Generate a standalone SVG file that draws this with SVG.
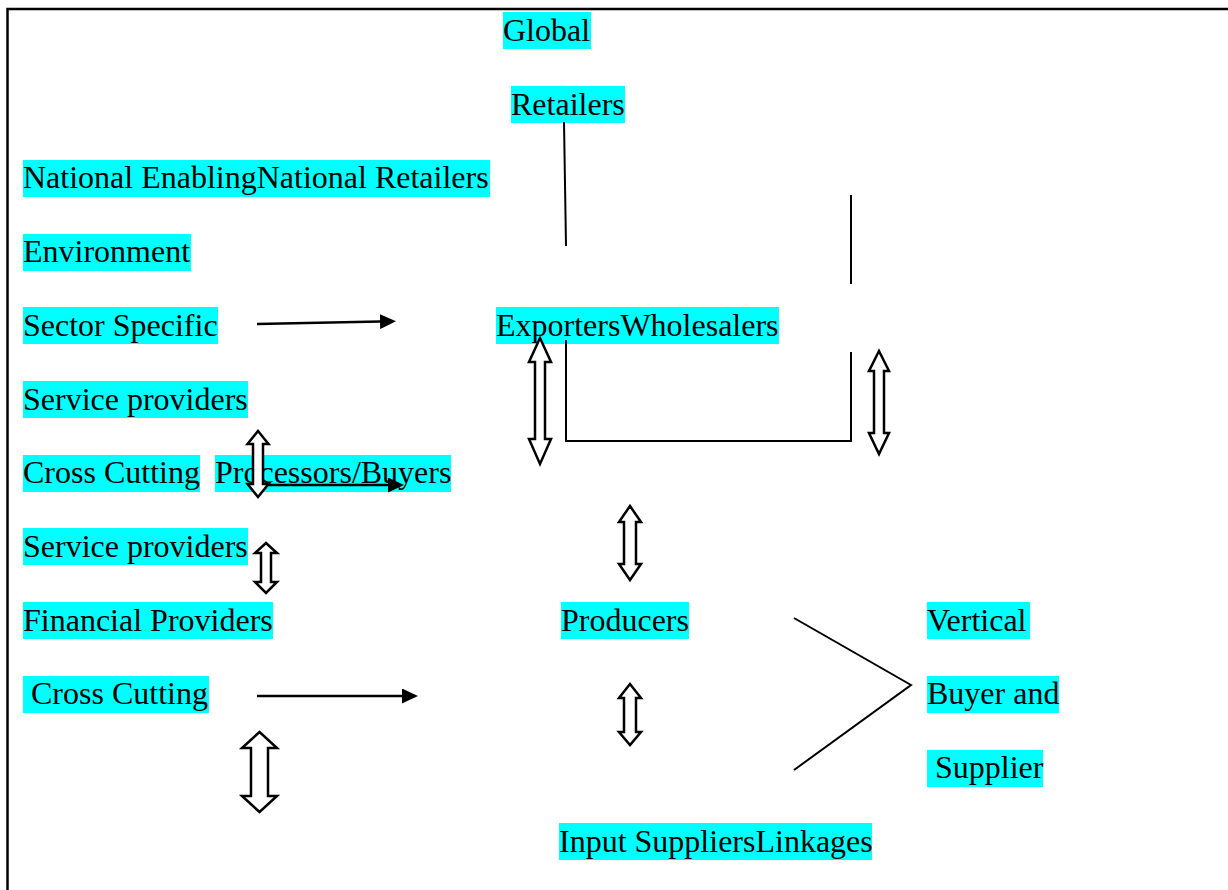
<svg xmlns="http://www.w3.org/2000/svg" width="1228" height="890" viewBox="0 0 1228 890">
  <style>
    .hl { fill: #00ffff; }
    .lbl { font-family: "Liberation Serif", "Times New Roman", serif; font-size: 32px; fill: #000; white-space: pre; }
    .ln { fill: none; stroke: #000; stroke-width: 2; }
    .arr { fill: none; stroke: #000; stroke-width: 2.5; }
    .blk { fill: #fff; stroke: #000; stroke-width: 2.5; stroke-linejoin: miter; }
    .frame { fill: none; stroke: #000; stroke-width: 2.5; }
  </style>
  <defs>
    <marker id="head" markerUnits="userSpaceOnUse" markerWidth="16" markerHeight="15" refX="0" refY="7.5" orient="auto">
      <path d="M0,0 L16,7.5 L0,15 Z" fill="#000"/>
    </marker>
  </defs>

  <rect width="1228" height="890" fill="#fff"/>
  <path class="frame" d="M7.5,890 V9 H1228"/>

  <!-- labels -->
  <g id="global">
    <rect class="hl" x="503" y="12" width="88" height="37"/>
    <text class="lbl" x="503" y="40.5">Global</text>
  </g>
  <g id="retailers">
    <rect class="hl" x="511" y="86" width="114" height="37"/>
    <text class="lbl" x="511" y="114.5">Retailers</text>
  </g>
  <g id="national-enabling">
    <rect class="hl" x="23" y="160" width="467" height="37"/>
    <text class="lbl" x="23" y="188">National EnablingNational Retailers</text>
  </g>
  <g id="environment">
    <rect class="hl" x="23" y="234" width="168" height="37"/>
    <text class="lbl" x="23" y="262">Environment</text>
  </g>
  <g id="sector-specific">
    <rect class="hl" x="23" y="307" width="195" height="37"/>
    <text class="lbl" x="23" y="335.5">Sector Specific</text>
  </g>
  <g id="exporters-wholesalers">
    <rect class="hl" x="496" y="307" width="283" height="37"/>
    <text class="lbl" x="496" y="335.5">ExportersWholesalers</text>
  </g>
  <g id="service-providers-1">
    <rect class="hl" x="23" y="381" width="225" height="37"/>
    <text class="lbl" x="23" y="409.5">Service providers</text>
  </g>
  <g id="cross-cutting-1">
    <rect class="hl" x="23" y="455" width="177" height="37"/>
    <text class="lbl" x="23" y="483">Cross Cutting</text>
  </g>
  <g id="processors-buyers">
    <rect class="hl" x="215" y="455" width="236" height="37"/>
    <text class="lbl" x="215" y="483">Processors/Buyers</text>
  </g>
  <g id="service-providers-2">
    <rect class="hl" x="23" y="528" width="225" height="37"/>
    <text class="lbl" x="23" y="556.5">Service providers</text>
  </g>
  <g id="financial-providers">
    <rect class="hl" x="23" y="602" width="250" height="37"/>
    <text class="lbl" x="23" y="630.5">Financial Providers</text>
  </g>
  <g id="cross-cutting-2">
    <rect class="hl" x="23" y="676" width="186" height="37"/>
    <text class="lbl" x="23" y="704"> Cross Cutting</text>
  </g>
  <g id="producers">
    <rect class="hl" x="561" y="602" width="128" height="37"/>
    <text class="lbl" x="561" y="630.5">Producers</text>
  </g>
  <g id="vertical">
    <rect class="hl" x="927" y="602" width="103" height="37"/>
    <text class="lbl" x="927" y="630.5">Vertical</text>
  </g>
  <g id="buyer-and">
    <rect class="hl" x="927" y="676" width="132" height="37"/>
    <text class="lbl" x="927" y="704">Buyer and</text>
  </g>
  <g id="supplier">
    <rect class="hl" x="927" y="750" width="116" height="37"/>
    <text class="lbl" x="927" y="778"> Supplier</text>
  </g>
  <g id="input-suppliers">
    <rect class="hl" x="559" y="823" width="313" height="37"/>
    <text class="lbl" x="559" y="851.5">Input SuppliersLinkages</text>
  </g>

  <!-- connectors -->
  <g id="connectors">
    <path class="ln" d="M564,122 L566,246"/>
    <path class="ln" d="M851,195 V284"/>
    <path class="ln" d="M566,340 V441 H851 V352"/>
    <path class="ln" d="M794,618 L911,685 L794,770"/>

    <path class="arr" d="M257,324 L380,321.6" marker-end="url(#head)"/>
    <path class="arr" d="M267,485 L388,485" marker-end="url(#head)"/>
    <path class="arr" d="M257,696 L402,696" marker-end="url(#head)"/>

    <path class="blk" d="M540,338 L551,362 L545,362 L545,439 L551,439 L540,464 L529,439 L535,439 L535,362 L529,362 Z"/>
    <path class="blk" d="M879,351 L889,371 L884,371 L884,433 L889,433 L879,454 L869,433 L874,433 L874,371 L869,371 Z"/>
    <path class="blk" d="M258,431 L268.5,444 L263,444 L263,484 L268.5,484 L258,497 L247.5,484 L253,484 L253,444 L247.5,444 Z"/>
    <path class="blk" d="M266,543 L277,553 L271,553 L271,582 L277,582 L266,593 L255,582 L261,582 L261,553 L255,553 Z"/>
    <path class="blk" d="M630,506 L641,522 L636,522 L636,564 L641,564 L630,580 L619,564 L624,564 L624,522 L619,522 Z"/>
    <path class="blk" d="M630,684 L641,698 L636,698 L636,732 L641,732 L630,745 L619,732 L624,732 L624,698 L619,698 Z"/>
    <path class="blk" d="M259.5,732 L277,748 L268,748 L268,796 L277,796 L259.5,812 L242,796 L251,796 L251,748 L242,748 Z"/>
  </g>
</svg>
